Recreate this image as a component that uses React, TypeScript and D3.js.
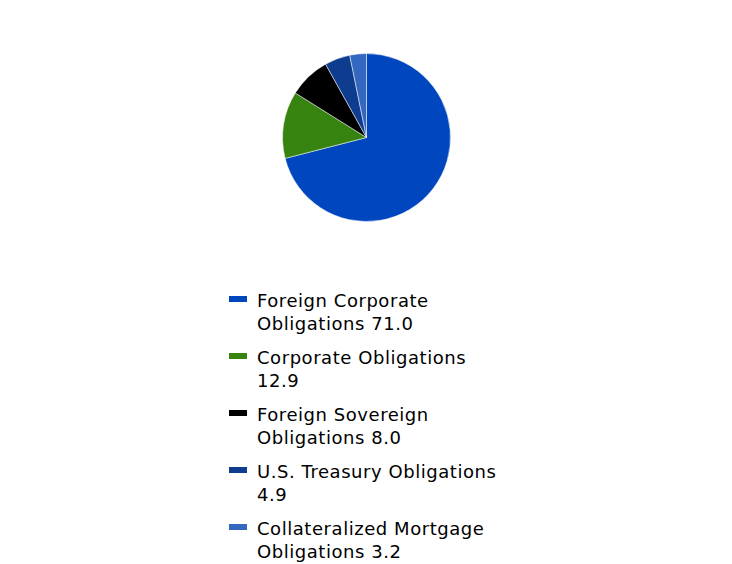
import React from "react";
import * as d3 from "d3";

const categories = [
  "Foreign Corporate Obligations",
  "Corporate Obligations",
  "Foreign Sovereign Obligations",
  "U.S. Treasury Obligations",
  "Collateralized Mortgage Obligations",
];
const values = [71.0, 12.9, 8.0, 4.9, 3.2];
const colors = ["#0047BF", "#36830F", "#000000", "#0E3D8F", "#3467BF"];
const legendLines = [
  ["Foreign Corporate", "Obligations 71.0"],
  ["Corporate Obligations", "12.9"],
  ["Foreign Sovereign", "Obligations 8.0"],
  ["U.S. Treasury Obligations", "4.9"],
  ["Collateralized Mortgage", "Obligations 3.2"],
];

export default function App() {
  const W = 732, H = 564;
  const cx = 366.5, cy = 137.5, r = 84;
  const data = categories.map((c, i) => ({ c, v: values[i], color: colors[i] }));
  const pie = d3.pie<any>().value((d) => d.v).sort(null);
  const arc = d3.arc<any>().innerRadius(0).outerRadius(r);
  const arcs = pie(data);
  const fontFamily = "'DejaVu Sans', Verdana, sans-serif";
  return (
    <svg width={W} height={H} style={{ position: "absolute", left: 0, top: 0, background: "#fff" }}>
      <g transform={`translate(${cx},${cy})`}>
        {arcs.map((a, i) => (
          <path key={i} d={arc(a) as string} fill={a.data.color} stroke="#fff" strokeWidth={0.5} />
        ))}
      </g>
      <g>
        {legendLines.map((lines, i) => {
          const y0 = 299 + i * 57;
          return (
            <g key={i}>
              <rect x={229} y={y0 - 3} width={18} height={6} fill={colors[i]} />
              {lines.map((t, j) => (
                <text key={j} x={257} y={y0 + 8 + j * 23} fontFamily={fontFamily} fontSize={18} letterSpacing={0.55} fill="#000">
                  {t}
                </text>
              ))}
            </g>
          );
        })}
      </g>
    </svg>
  );
}
